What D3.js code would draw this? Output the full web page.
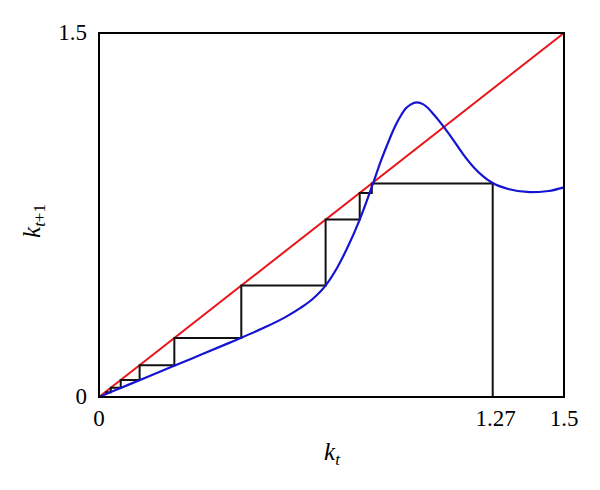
<!DOCTYPE html>
<html>
<head>
<meta charset="utf-8">
<script src="https://cdn.jsdelivr.net/npm/d3@7"></script>
<style>
  body { margin: 0; background: #fff; }
  svg { display: block; }
</style>
</head>
<body>
<svg id="chart"></svg>
<script>
// map k_{t+1} = f(k_t)
var kVals = [0, 0.1, 0.2, 0.3, 0.42, 0.53, 0.60, 0.65, 0.69, 0.73, 0.77, 0.80, 0.84, 0.865,
  0.888, 0.91, 0.93, 0.944, 0.96, 0.975, 0.99, 1.005, 1.025, 1.045, 1.062, 1.08, 1.095,
  1.114, 1.138, 1.175, 1.21, 1.267, 1.32, 1.39, 1.45, 1.5];
var fVals = [0, 0.053, 0.106, 0.159, 0.223, 0.284, 0.328, 0.367, 0.405, 0.458, 0.537, 0.612, 0.728, 0.812,
  0.895, 0.975, 1.04, 1.084, 1.128, 1.162, 1.190, 1.205, 1.214, 1.207, 1.190, 1.164, 1.141,
  1.110, 1.068, 1.000, 0.945, 0.884, 0.857, 0.844, 0.849, 0.864];

// cobweb iterates starting at k0 = 1.27
var kSeq = [1.27, 0.880, 0.841, 0.731, 0.459, 0.243, 0.131, 0.070, 0.038, 0.020];

var xTicks = [0, 1.27, 1.5];
var yTicks = [0, 1.5];

var w = 600, h = 490;
var svg = d3.select("#chart").attr("width", w).attr("height", h);

var x = d3.scaleLinear().domain([0, 1.5]).range([99, 564]);
var y = d3.scaleLinear().domain([0, 1.5]).range([397, 33]);

var line = d3.line()
  .x(function (d) { return x(d[0]); })
  .y(function (d) { return y(d[1]); });

// 45 degree line
svg.append("path")
  .attr("d", line([[0, 0], [1.5, 1.5]]))
  .attr("stroke", "#e8141a")
  .attr("stroke-width", 2)
  .attr("fill", "none");

// cobweb
var web = [[kSeq[0], 0]];
for (var i = 0; i < kSeq.length - 1; i++) {
  web.push([kSeq[i], kSeq[i + 1]]);
  web.push([kSeq[i + 1], kSeq[i + 1]]);
}
svg.append("path")
  .attr("d", line(web))
  .attr("stroke", "#111")
  .attr("stroke-width", 2)
  .attr("fill", "none");

// f curve
var curvePts = kVals.map(function (k, i) { return [k, fVals[i]]; });
var smooth = d3.line()
  .x(function (d) { return x(d[0]); })
  .y(function (d) { return y(d[1]); })
  .curve(d3.curveMonotoneX);
svg.append("path")
  .attr("d", smooth(curvePts))
  .attr("stroke", "#1414d2")
  .attr("stroke-width", 2.2)
  .attr("fill", "none");

// frame
svg.append("rect")
  .attr("x", x(0)).attr("y", y(1.5))
  .attr("width", x(1.5) - x(0)).attr("height", y(0) - y(1.5))
  .attr("fill", "none")
  .attr("stroke", "#000")
  .attr("stroke-width", 2);

var font = "'Liberation Serif', 'DejaVu Serif', serif";

svg.selectAll(".xt")
  .data(xTicks)
  .enter()
  .append("text")
  .attr("class", "xt")
  .attr("x", function (d) { return x(d) + (d == 1.27 ? 3 : 0); })
  .attr("y", 426)
  .attr("text-anchor", "middle")
  .attr("font-family", font)
  .attr("font-size", "23px")
  .text(function (d) { return d; });

svg.selectAll(".yt")
  .data(yTicks)
  .enter()
  .append("text")
  .attr("class", "yt")
  .attr("x", 87)
  .attr("y", function (d) { return y(d) + 7; })
  .attr("text-anchor", "end")
  .attr("font-family", font)
  .attr("font-size", "23px")
  .text(function (d) { return d; });

// axis titles
var xl = svg.append("text")
  .attr("x", 332)
  .attr("y", 460)
  .attr("text-anchor", "middle")
  .attr("font-family", font)
  .attr("font-style", "italic")
  .attr("font-size", "25px");
xl.append("tspan").text("k");
xl.append("tspan").attr("font-size", "17px").attr("dy", 5).text("t");

var yl = svg.append("text")
  .attr("transform", "translate(40,221) rotate(-90)")
  .attr("text-anchor", "middle")
  .attr("font-family", font)
  .attr("font-style", "italic")
  .attr("font-size", "25px");
yl.append("tspan").text("k");
yl.append("tspan").attr("font-size", "17px").attr("dy", 5).text("t");
yl.append("tspan").attr("font-size", "17px").attr("font-style", "normal").text("+1");
</script>
</body>
</html>
